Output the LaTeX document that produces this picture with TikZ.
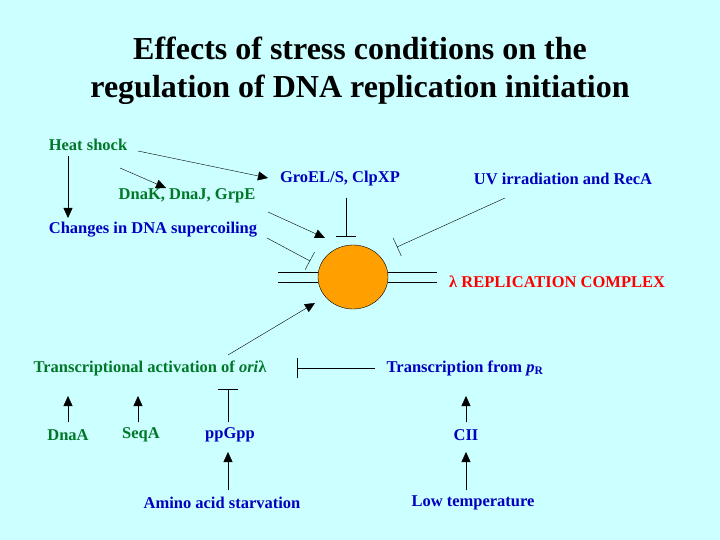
\documentclass[tikz,border=0pt]{standalone}
\usepackage{fontspec}
\setmainfont{Liberation Serif}
\usetikzlibrary{arrows.meta,shapes.geometric}
\definecolor{bg}{RGB}{204,255,255}
\definecolor{grn}{RGB}{0,120,40}
\definecolor{blu}{RGB}{0,0,190}
\definecolor{org}{RGB}{255,160,0}
\begin{document}
\begin{tikzpicture}[x=1pt, y=-1pt,
  lbl/.style={font=\bfseries\fontsize{16.5}{19}\selectfont, inner sep=1pt},
  act/.style={-{Triangle[length=10pt,width=9pt]}},
  inh/.style={-{Bar[width=20pt]}}]
  \fill[bg] (0,0) rectangle (720,540);
  \node[font=\bfseries\fontsize{32}{38}\selectfont, align=center] (title) at (360,71)
    {Effects of stress conditions on the\\regulation of DNA replication initiation};
  \node[lbl, grn] (heat) at (88,145) {Heat shock};
  \node[lbl, grn] (dnak) at (187,196) {DnaK, DnaJ, GrpE};
  \node[lbl, blu] (groel) at (340,179) {GroEL/S, ClpXP};
  \node[lbl, blu] (uv) at (563,179) {UV irradiation and RecA};
  \node[lbl, blu] (super) at (153,230) {Changes in DNA supercoiling};
  \node[ellipse, draw, fill=org, minimum width=70pt, minimum height=64pt, inner sep=0pt] (cx) at (353,277) {};
  \node[lbl, red, anchor=west] (lam) at (448,282) {λ REPLICATION COMPLEX};
  \node[lbl, grn] (trans) at (150,368) {Transcriptional activation of \textit{ori}λ};
  \node[lbl, blu] (pr) at (465,368) {Transcription from \textit{p}\textsubscript{R}};
  \node[lbl, grn] (dnaa) at (68,435) {DnaA};
  \node[lbl, grn] (seqa) at (141,435) {SeqA};
  \node[lbl, blu] (ppgpp) at (230,435) {ppGpp};
  \node[lbl, blu] (cii) at (466,435) {CII};
  \node[lbl, blu] (amino) at (222,503) {Amino acid starvation};
  \node[lbl, blu] (low) at (473,503) {Low temperature};
  % DNA strands through the complex
  \draw (278,272) -- (cx.west |- 0,272) (278,282) -- (cx.west |- 0,282);
  \draw (cx.east |- 0,272) -- (437,272) (cx.east |- 0,282) -- (437,282);
  % heat shock effects
  \draw[act] (68,156) -- (68,218);
  \draw[act] (120,168) -- (166,188);
  \draw[act] (138,151) -- (268,178);
  \draw[act] (268,212) -- (325,238);
  \draw[inh] (346,198) -- (346,236);
  \draw[inh] (505,198) -- (397,247);
  \draw[inh] (267,238) -- (310,261);
  \draw[act] (228,355) -- (315,303);
  % lower cascade
  \draw[inh] (375,368) -- (297,368);
  \draw[act] (68,422) -- (68,396);
  \draw[act] (138,422) -- (138,396);
  \draw[inh] (228,422) -- (228,389);
  \draw[act] (466,422) -- (466,396);
  \draw[act] (228,490) -- (228,452);
  \draw[act] (466,490) -- (466,452);
\end{tikzpicture}
\end{document}
